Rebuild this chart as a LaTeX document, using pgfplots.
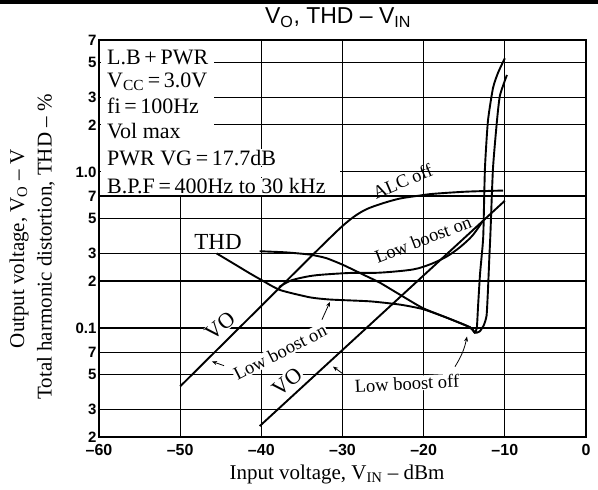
\documentclass[border=0pt]{standalone}
\usepackage{pgfplots}
\pgfplotsset{compat=1.18}
\usepackage{fontspec}
\setmainfont{Liberation Serif}
\newfontfamily\sansf{Liberation Sans}
\usetikzlibrary{arrows.meta}

\begin{document}
\begin{tikzpicture}[gridline/.style={black, line width=1.2pt}]
\begin{axis}[
    scale only axis,
    width=487pt, height=397pt,
    xmin=-60, xmax=0,
    ymode=log, ymin=0.02, ymax=7,
    xtick={-60,-50,-40,-30,-20,-10,0},
    xticklabels={–60,–50,–40,–30,–20,–10,0},
    ytick={0.02,0.03,0.05,0.07,0.1,0.2,0.3,0.5,0.7,1,2,3,5,7},
    yticklabels={2,3,5,7,0.1,2,3,5,7,1.0,2,3,5,7},
    minor ytick={},
    major tick length=0pt,
    axis line style={line width=1.7pt},
    x tick label style={font=\sansf\bfseries\fontsize{16}{16}\selectfont, yshift=-4pt},
    y tick label style={font=\sansf\bfseries\fontsize{15}{15}\selectfont, xshift=1pt},
    clip=false,
]

% grid
\pgfplotsinvokeforeach{-50,-40,-30,-20,-10}{
    \draw[gridline] (axis cs:#1,0.02) -- (axis cs:#1,7);
}
\pgfplotsinvokeforeach{0.03,0.05,0.07,0.1,0.2,0.3,0.5,0.7,1,2,3,5}{
    \draw[gridline] (axis cs:-60,#1) -- (axis cs:0,#1);
}

% condition box (covers the grid)
\fill[white] (axis cs:-59.8,0.715) rectangle (axis cs:-45.8,6.93);
\fill[white] (axis cs:-59.8,0.93) rectangle (axis cs:-30.3,1.07);

% left VO (low boost on), bending into ALC off
\addplot[black, line width=1.9pt, smooth, tension=0.5] coordinates {
    (-50,0.0422) (-45,0.0764) (-40,0.1384) (-35,0.251) (-32,0.358)
    (-30,0.45) (-28.5,0.52) (-27,0.578) (-25,0.63) (-22.9,0.675)
    (-20.5,0.705) (-18.85,0.723) (-14.7,0.747) (-10.2,0.759)
};

% VO low boost on with ALC
\addplot[black, line width=1.9pt, smooth, tension=0.5] coordinates {
    (-37.8,0.183) (-36.5,0.2) (-35,0.21) (-33.1,0.218) (-29.1,0.225)
    (-25.4,0.226) (-21.3,0.237) (-19,0.258) (-17.1,0.288) (-15.5,0.33)
    (-14,0.39) (-12.7,0.485)
};

% right VO (low boost off)
\addplot[black, line width=1.9pt] coordinates {
    (-40.2,0.0235) (-10,0.653)
};

% THD low boost on
\addplot[black, line width=1.9pt, smooth, tension=0.35] coordinates {
    (-45.5,0.30) (-43.5,0.26) (-41.5,0.225) (-40,0.203) (-37.7,0.175)
    (-34,0.157) (-31.5,0.152) (-26.6,0.148) (-22.9,0.141) (-20.1,0.132)
    (-17.1,0.116) (-14.3,0.101) (-13.7,0.094) (-13.45,0.1) (-13.3,0.137)
    (-13.06,0.22) (-12.85,0.29) (-12.65,0.396) (-12.45,1.05) (-12.08,2.12)
    (-11.46,3.44) (-10.85,4.3) (-10.0,5.35)
};

% THD low boost off
\addplot[black, line width=1.9pt, smooth, tension=0.35] coordinates {
    (-40.2,0.31) (-37,0.305) (-34,0.295) (-32,0.28) (-29.9,0.253)
    (-27,0.214) (-25.4,0.195) (-22.9,0.163) (-20.1,0.134) (-17.1,0.116)
    (-14.3,0.101) (-13.7,0.093) (-13.1,0.095) (-12.6,0.104) (-12.25,0.12)
    (-12.08,0.174) (-11.9,0.29) (-11.78,0.396) (-11.46,1.05) (-10.97,2.12)
    (-10.6,3.09) (-9.74,4.18)
};

% condition text
\begin{scope}[every node/.style={anchor=base west, fill=white, inner sep=1pt,
        font=\fontsize{22}{22}\selectfont}]
\node at (axis cs:-59.14,4.85) {L.B\,+\,PWR};
\node at (axis cs:-59.14,3.48) {V\textsubscript{CC}\,=\,3.0V};
\node at (axis cs:-59.14,2.38) {fi\,=\,100Hz};
\node at (axis cs:-59.14,1.63) {Vol max};
\node at (axis cs:-59.14,1.106) {PWR VG\,=\,17.7dB};
\node at (axis cs:-59.14,0.723) {B.P.F\,=\,400Hz to 30 kHz};
\end{scope}

% curve labels
\begin{scope}[every node/.style={fill=white, inner sep=0.8pt,
        font=\fontsize{18.5}{18.5}\selectfont}]
\node[font=\fontsize{23}{23}\selectfont] at (axis cs:-45.34,0.356) {THD};
\node[rotate=40, font=\fontsize{22}{22}\selectfont] at (axis cs:-45.1,0.103) {VO};
\node[rotate=27] at (axis cs:-37.7,0.07) {Low boost on};
\node[rotate=40, font=\fontsize{22}{22}\selectfont] at (axis cs:-36.84,0.0453) {VO};
\node[rotate=3] at (axis cs:-22.06,0.044) {Low boost off};
\node[rotate=21, fill=none] at (axis cs:-20.08,0.37) {Low boost on};
\node[rotate=23, fill=none] at (axis cs:-22.6,0.87) {ALC off};
\end{scope}

% arrows
\begin{scope}[-{Stealth[length=5pt,width=4pt]}, line width=0.8pt]
\draw (axis cs:-44.6,0.0573) -- (axis cs:-46.08,0.061);
\draw (axis cs:-32.53,0.113) -- (axis cs:-31.54,0.147);
\draw (axis cs:-29.94,0.0508) -- (axis cs:-31.17,0.0565);
\draw (axis cs:-16.14,0.0565) to[bend right=10] (axis cs:-14.66,0.088);
\end{scope}

% title and axis labels
\node[anchor=base, yshift=16pt, font=\sansf\fontsize{23}{23}\selectfont]
    at (rel axis cs:0.491,1) {V\textsubscript{O}, THD – V\textsubscript{IN}};
\node[font=\fontsize{21}{21}\selectfont]
    at (rel axis cs:0.4887,-0.0932) {Input voltage, V\textsubscript{IN} – dBm};
\node[rotate=90, font=\fontsize{21}{21}\selectfont]
    at (rel axis cs:-0.1643,0.4736) {Output voltage, V\textsubscript{O} – V};
\node[rotate=90, font=\fontsize{21}{21}\selectfont]
    at (rel axis cs:-0.1088,0.4786) {Total harmonic distortion, THD – \%};

\end{axis}
\fill[black] (-99pt,433pt) rectangle (499pt,437pt);
\pgfresetboundingbox
\useasboundingbox (-99pt,-53pt) rectangle (499pt,437pt);
\end{tikzpicture}
\end{document}
